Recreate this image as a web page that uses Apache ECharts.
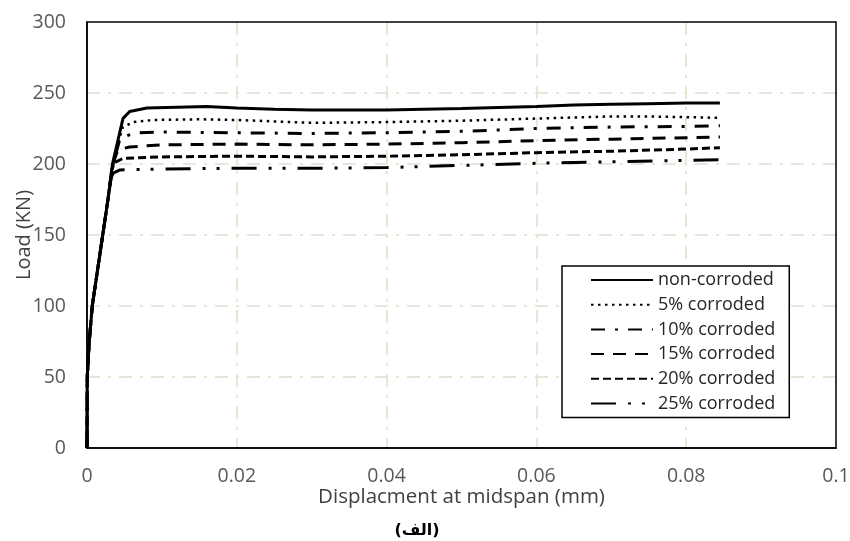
<!DOCTYPE html>
<html>
<head>
<meta charset="utf-8">
<script src="https://cdn.jsdelivr.net/npm/echarts@6/dist/echarts.min.js"></script>
<style>html,body{margin:0;padding:0;background:#fff}#c{width:850px;height:541px}</style>
</head>
<body>
<div id="c"></div>
<script>
// Shared initial elastic branch (displacement mm, load kN)
const riseX = [0, 0.00003, 0.0003, 0.0007, 0.0014, 0.0021, 0.0028];
const riseY = [0, 50, 75, 100, 125, 150, 175];

const seriesNames = ['non-corroded', '5% corroded', '10% corroded', '15% corroded', '20% corroded', '25% corroded'];

const x0 = [0.0034, 0.0041, 0.0048, 0.0057, 0.008, 0.012, 0.016, 0.02, 0.025, 0.03, 0.04, 0.05, 0.06, 0.065, 0.07, 0.075, 0.08, 0.0845];
const y0 = [200, 216, 232, 237, 239.5, 240, 240.5, 239.5, 238.5, 238, 238, 239, 240.5, 241.5, 242, 242.5, 243, 243];

const x5 = [0.0035, 0.0042, 0.0048, 0.0062, 0.009, 0.015, 0.02, 0.025, 0.03, 0.04, 0.05, 0.06, 0.07, 0.075, 0.0845];
const y5 = [200, 216, 226, 229.6, 231, 231.5, 231, 230, 229, 229.5, 230.5, 232, 233.5, 233.5, 232.5];

const x10 = [0.0035, 0.0044, 0.0064, 0.01, 0.02, 0.03, 0.04, 0.05, 0.06, 0.07, 0.08, 0.0845];
const y10 = [200, 218, 222, 222.5, 222, 221.5, 222, 223, 225, 226, 226.5, 227];

const x15 = [0.0034, 0.0041, 0.0057, 0.01, 0.02, 0.03, 0.04, 0.05, 0.06, 0.07, 0.08, 0.0845];
const y15 = [199, 210, 212, 213.5, 214, 213.5, 214, 215, 216.5, 217.5, 218.5, 219];

const x20 = [0.0033, 0.0037, 0.0048, 0.01, 0.02, 0.03, 0.04, 0.05, 0.06, 0.07, 0.08, 0.0845];
const y20 = [196, 201, 204, 205, 205.5, 205, 205.5, 206.5, 208, 209, 210.5, 211.5];

const x25 = [0.0032, 0.0035, 0.0044, 0.01, 0.02, 0.03, 0.04, 0.05, 0.06, 0.07, 0.08, 0.0845];
const y25 = [190, 193.6, 195.8, 196.5, 197, 197, 197.5, 199, 200.5, 201.5, 202.5, 203];

const xTicks = [0, 0.02, 0.04, 0.06, 0.08, 0.1];
const yTicks = [0, 50, 100, 150, 200, 250, 300];

const dashes = ['solid', [2.5, 4.5], [14, 10, 3, 10], [13, 9], [8, 4], [25, 12, 3, 11, 3, 12]];
const widths = [3, 2.5, 3, 3, 3, 3];

function pts(xs, ys) {
  const d = riseX.map((x, i) => [x, riseY[i]]);
  xs.forEach((x, i) => d.push([x, ys[i]]));
  return d;
}
const allX = [x0, x5, x10, x15, x20, x25];
const allY = [y0, y5, y10, y15, y20, y25];

const FONT = 'Open Sans';
const gridLine = {show: true, showMinLine: false, showMaxLine: false,
  lineStyle: {color: '#e3ddc9', width: 1.5, type: [13, 8, 3, 8]}};
const chart = echarts.init(document.getElementById('c'), null, {renderer: 'canvas'});
chart.setOption({
  animation: false,
  backgroundColor: '#fff',
  grid: {left: 87, right: 14, top: 22, bottom: 93, containLabel: false, outerBoundsMode: 'none',
    show: true, borderColor: '#000', borderWidth: 1.5, backgroundColor: 'transparent', z: 5},
  xAxis: {
    type: 'value', min: 0, max: 0.1, interval: 0.02,
    name: 'Displacment at midspan (mm)', nameLocation: 'middle', nameGap: 39, nameMoveOverlap: false,
    nameTextStyle: {fontFamily: FONT, fontSize: 20.5, color: '#404040'},
    axisLine: {show: true, lineStyle: {color: '#000', width: 1.5}},
    axisTick: {show: false},
    axisLabel: {fontFamily: FONT, fontSize: 19.5, color: '#595959', margin: 18,
      formatter: v => xTicks.includes(+v.toFixed(4)) ? String(+v.toFixed(4)) : ''},
    splitLine: gridLine
  },
  yAxis: {
    type: 'value', min: 0, max: 300, interval: 50,
    name: 'Load (KN)', nameLocation: 'middle', nameGap: 53, nameMoveOverlap: false,
    nameTextStyle: {fontFamily: FONT, fontSize: 20, color: '#404040'},
    axisLine: {show: true, lineStyle: {color: '#000', width: 1.5}},
    axisTick: {show: false},
    axisLabel: {fontFamily: FONT, fontSize: 19.5, color: '#595959', margin: 21,
      formatter: v => yTicks.includes(v) ? String(v) : ''},
    splitLine: gridLine
  },
  legend: {
    orient: 'vertical', left: 562, top: 266,
    padding: [5, 14, 5, 28], itemGap: 6.7, itemWidth: 62, itemHeight: 14,
    borderColor: '#000', borderWidth: 1.5, backgroundColor: '#fff',
    itemStyle: {color: 'rgba(0,0,0,0)', borderWidth: 0},
    textStyle: {fontFamily: FONT, fontSize: 18, color: '#262626'},
    data: seriesNames
  },
  graphic: [{
    type: 'text', x: 417, y: 531,
    style: {text: '(الف)', font: 'bold 16px "DejaVu Sans"', fill: '#000', textAlign: 'center', textVerticalAlign: 'middle'}
  }],
  series: seriesNames.map((n, i) => ({
    name: n, type: 'line', symbol: 'none', showSymbol: false,
    data: pts(allX[i], allY[i]),
    lineStyle: {color: '#000', width: widths[i], type: dashes[i]},
    itemStyle: {color: '#000'},
    z: 10 - i
  }))
});
</script>
</body>
</html>
